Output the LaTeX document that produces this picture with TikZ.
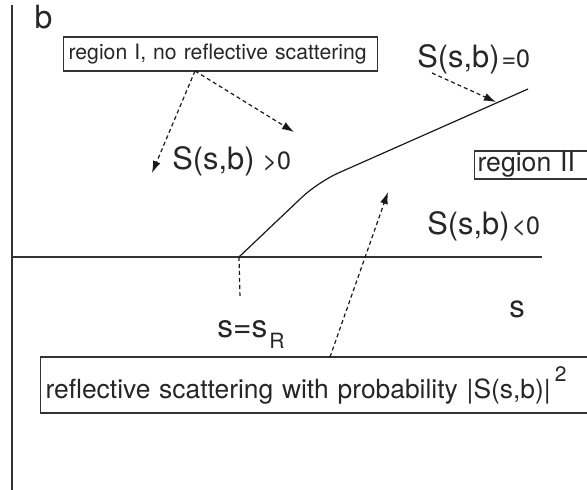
\documentclass[tikz,border=0pt]{standalone}
\usepackage{fontspec}
\setmainfont{TeX Gyre Heros}
\usetikzlibrary{arrows.meta}
\newcommand{\fsz}[1]{\fontsize{#1}{#1}\selectfont}

\begin{document}
\begin{tikzpicture}[x=0.5pt, y=-0.5pt,
  axisline/.style={draw=black!80, line width=0.7pt},
  guide/.style={draw=black!90, line width=0.6pt, dash pattern=on 2pt off 1.5pt},
  pointer/.style={guide, -{Latex[length=6pt,width=4pt]}},
  boxed/.style={draw=black!80, line width=0.6pt, inner ysep=0pt, align=left,
                text=black!85},
  lbl/.style={inner sep=0pt, text=black!85, font=\fsz{#1}},
  lbl/.default=15.4,
]
\useasboundingbox (0,0) rectangle (587,490);

% Achsen
\coordinate (top) at (12,5);
\coordinate (bot) at (12,490);
\coordinate (O) at (12,257);
\coordinate (send) at (542,257);
\draw[axisline] (top) -- (bot);
\draw[axisline] (O) -- (send);
\node[lbl=16, anchor=base] (bl) at (43.5,29) {b};
\node[lbl=15.5, anchor=base] (sl) at (517,318) {s};

% Grenzkurve S(s,b)=0
\coordinate (sR) at (239,257);
\coordinate (kink) at (318,182);
\coordinate (cend) at (528,89);
\draw[black!90, line width=0.6pt, rounded corners=11pt] (sR) -- (kink) -- (cend);

% s = s_R
\coordinate (sRlow) at (240,298);
\draw[guide] (sR) -- (sRlow);
\node[lbl=15.8, anchor=base west] (srl) at (217,338)
  {s=s\raisebox{-5.5pt}{\hspace{1pt}\fsz{10.5}R}};

% Bereich I
\node[boxed, anchor=west, font=\fsz{10.6}, inner xsep=2.5pt,
      text width=152pt, minimum height=17pt] (reg1) at (63,54)
  {region I, no reflective scattering};
\coordinate (fork) at (195,71);
\coordinate (tipl) at (152,173);
\coordinate (tipr) at (294,132);
\draw[pointer] (fork) -- (tipl);
\draw[pointer] (fork) -- (tipr);
\node[lbl, anchor=base west] (spos) at (172,170) {S(s,b)\hspace{4pt}{\fsz{12.5}>0}};

% Linie S=0
\node[lbl, anchor=base west] (szero) at (417,68) {S(s,b)\hspace{1pt}{\fsz{12.5}=0}};
\coordinate (zfrom) at (432,73);
\coordinate (zto) at (496,102);
\draw[pointer] (zfrom) -- (zto);

% Bereich II
\node[boxed, anchor=west, font=\fsz{13.3}, inner xsep=1.5pt,
      text width=54.5pt, minimum height=14pt] (reg2) at (474,165) {region II};
\node[lbl, anchor=base west] (sneg) at (427,235) {S(s,b)\hspace{1pt}{\fsz{12.5}<0}};

% Reflexionsstreuung
\node[boxed, anchor=west, font=\fsz{13.2}, inner xsep=2.5pt,
      text width=270pt, minimum height=28pt] (refl) at (40,385)
  {reflective scattering with probability
   |S(s,b)|\hspace{2pt}\raisebox{8.5pt}{\fsz{10.5}2}};
\coordinate (rfrom) at (330,357);
\coordinate (rto) at (388,192);
\draw[pointer] (rfrom) -- (rto);
\end{tikzpicture}
\end{document}
